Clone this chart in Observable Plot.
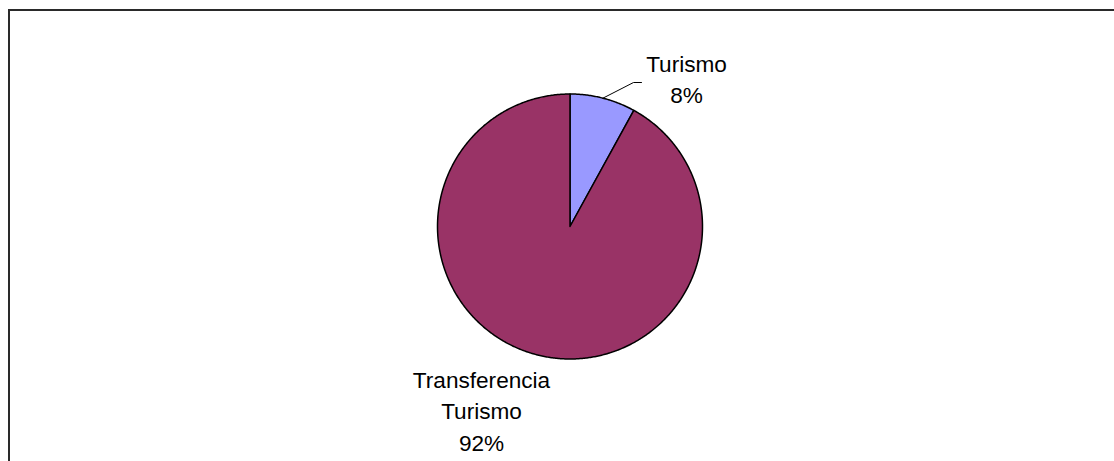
<!DOCTYPE html>
<html><head><meta charset="utf-8">
<script src="https://cdn.jsdelivr.net/npm/d3@7"></script>
<script src="https://cdn.jsdelivr.net/npm/@observablehq/plot@0.6"></script>
<style>
html,body{margin:0;padding:0;background:#fff;overflow:hidden;}
#wrap{position:relative;width:1114px;height:461px;overflow:hidden;}
#border{position:absolute;left:8px;top:9px;width:2000px;height:2000px;border-left:2px solid #2a2a2a;border-top:2px solid #2a2a2a;pointer-events:none;}
</style>
</head><body><div id="wrap"><div id="chart"></div><div id="border"></div></div>
<script>
// ---- data ----
const categories = ["Turismo", "Transferencia Turismo"];
const values = [8, 92];
const labelTexts = ["Turismo\n8%", "Transferencia\nTurismo\n92%"];
const colors = ["#9999FF", "#993366"];

// ---- layout (pixels) ----
const W = 1114, H = 461;
const CX = 569.5, CY = 226, R = 132.5;
const labelOffsetPx = [[116.5, -149], [-88.5, 183]];        // label centre relative to pie centre
const leaderPx = [[[63.5, -144], [71.5, -144]], null];      // elbow + end of leader line

// ---- geometry from data ----
const pie = d3.pie().sort(null).value(d => d)(values);
const slicePts = [];
pie.forEach((p, i) => {
  const n = Math.max(2, Math.ceil((p.endAngle - p.startAngle) / (Math.PI / 360)));
  slicePts.push({cat: categories[i], x: 0, y: 0});
  for (let k = 0; k <= n; k++) {
    const a = p.startAngle + (p.endAngle - p.startAngle) * k / n;
    slicePts.push({cat: categories[i], x: Math.sin(a), y: Math.cos(a)});
  }
  slicePts.push({cat: categories[i], x: 0, y: 0});
});

const labelData = categories.map((c, i) => ({
  cat: c, text: labelTexts[i],
  x: labelOffsetPx[i][0] / R, y: -labelOffsetPx[i][1] / R
}));

const leaderPts = [];
pie.forEach((p, i) => {
  if (!leaderPx[i]) return;
  const mid = (p.startAngle + p.endAngle) / 2;
  leaderPts.push({cat: categories[i], x: Math.sin(mid), y: Math.cos(mid)});
  leaderPx[i].forEach(([dx, dy]) => leaderPts.push({cat: categories[i], x: dx / R, y: -dy / R}));
});

const font = "'Liberation Sans', Arial, sans-serif";

const chart = Plot.plot({
  width: W, height: H,
  margin: 0,
  style: {fontFamily: font, background: "#fff"},
  x: {domain: [-1, 1], range: [CX - R, CX + R], axis: null},
  y: {domain: [-1, 1], range: [CY + R, CY - R], axis: null},
  color: {type: "ordinal", domain: categories, range: colors},
  marks: [
    Plot.line(slicePts, {x: "x", y: "y", z: "cat", fill: "cat", stroke: "#000", strokeWidth: 1.5, strokeLinejoin: "round", curve: "linear"}),
    Plot.line(leaderPts, {x: "x", y: "y", z: "cat", stroke: "#000", strokeWidth: 1}),
    Plot.text(labelData, {x: "x", y: "y", text: "text", fontSize: 22.6, lineHeight: 1.38, fill: "#000", textAnchor: "middle", fontFamily: font})
  ]
});
document.getElementById("chart").appendChild(chart);
</script>
</body></html>
